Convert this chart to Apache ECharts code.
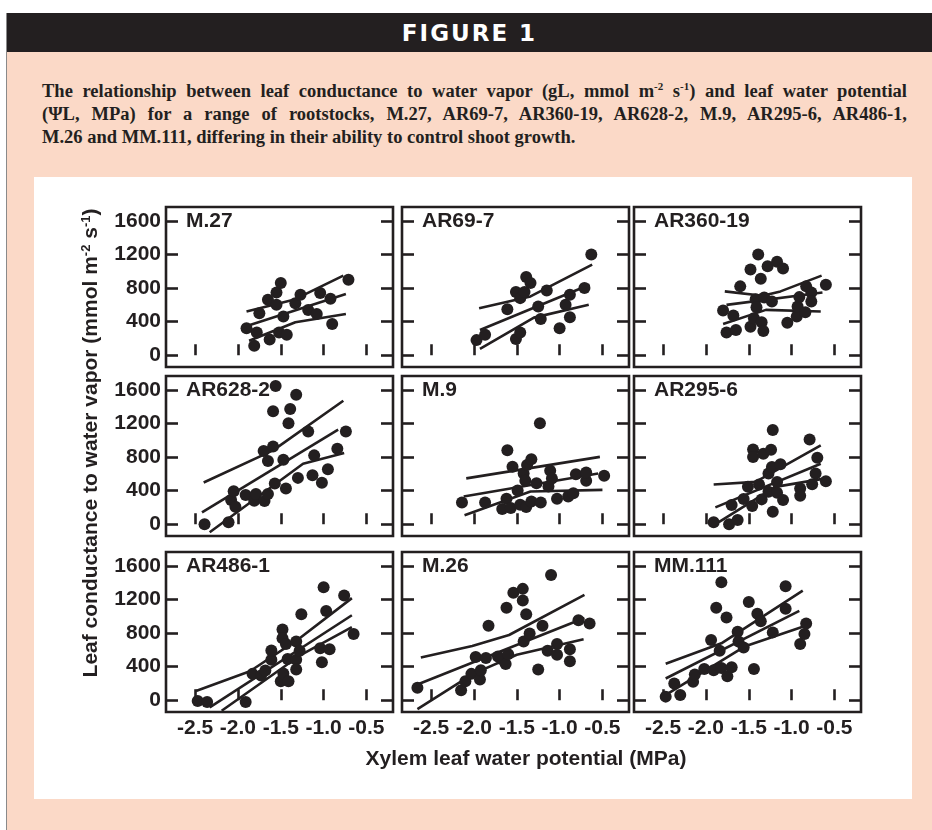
<!DOCTYPE html>
<html>
<head>
<meta charset="utf-8">
<script src="https://cdn.jsdelivr.net/npm/echarts@6/dist/echarts.min.js"></script>
<style>
html,body{margin:0;padding:0;background:#fff;width:932px;height:830px;overflow:hidden;}
#peach{position:absolute;left:6px;top:13px;width:926px;height:817px;background:#FBD9C7;border-left:1px solid #8a8a8a;}
#head{position:absolute;left:7px;top:13px;width:925px;height:39px;background:#231F20;color:#fff;text-align:center;font:bold 23px "DejaVu Sans",sans-serif;letter-spacing:2px;line-height:40px;}
#cap{position:absolute;left:42px;top:80px;width:865px;font:bold 18.5px "Liberation Serif",serif;line-height:23px;color:#231F20;}
#cap .j{text-align:justify;text-align-last:justify;white-space:nowrap;}
#cap sup{font-size:11px;vertical-align:7px;line-height:0;}
#white{position:absolute;left:34px;top:177px;width:878px;height:622px;background:#fff;}
#chart{position:absolute;left:0;top:0;width:932px;height:830px;}
</style>
</head>
<body>
<div id="peach"></div>
<div id="head">FIGURE 1</div>
<div id="cap">
<div class="j">The relationship between leaf conductance to water vapor (gL, mmol m<sup>-2</sup> s<sup>-1</sup>) and leaf water potential</div>
<div class="j">(ΨL, MPa) for a range of rootstocks, M.27, AR69-7, AR360-19, AR628-2, M.9, AR295-6, AR486-1,</div>
<div>M.26 and MM.111, differing in their ability to control shoot growth.</div>
</div>
<div id="white"></div>
<div id="chart"></div>
<script>
// ---------- data ----------
const panelNames = ['M.27','AR69-7','AR360-19','AR628-2','M.9','AR295-6','AR486-1','M.26','MM.111'];
const xTicks = [-2.5, -2.0, -1.5, -1.0, -0.5];
const yTicks = [0, 400, 800, 1200, 1600];
const xTitle = 'Xylem leaf water potential (MPa)';

const m27Points = [[-1.90,320],[-1.81,112],[-1.78,272],[-1.75,500],[-1.65,660],[-1.63,188],[-1.55,748],[-1.55,600],[-1.52,272],[-1.50,860],[-1.47,460],[-1.43,244],[-1.33,620],[-1.27,720],[-1.18,540],[-1.08,492],[-1.04,740],[-0.92,672],[-0.90,372],[-0.71,900]];
const m27Upper = [[-1.90,520],[-1.35,660],[-0.77,948]];
const m27Mid = [[-1.86,360],[-0.74,728]];
const m27Lower = [[-1.87,172],[-1.33,392],[-0.74,492]];

const ar697Points = [[-1.97,180],[-1.87,244],[-1.61,548],[-1.51,752],[-1.51,192],[-1.46,272],[-1.46,680],[-1.41,752],[-1.39,932],[-1.34,860],[-1.25,580],[-1.22,432],[-1.15,772],[-1.00,320],[-0.93,600],[-0.88,720],[-0.88,452],[-0.71,800],[-0.63,1200]];
const ar697Upper = [[-1.94,560],[-1.34,700],[-0.62,1080]];
const ar697Mid = [[-1.93,300],[-0.65,840]];
const ar697Lower = [[-1.93,76],[-1.30,448],[-0.66,600]];

const ar36019Points = [[-1.80,532],[-1.76,272],[-1.68,472],[-1.65,300],[-1.60,820],[-1.48,340],[-1.48,1020],[-1.44,440],[-1.42,668],[-1.41,572],[-1.39,1200],[-1.36,912],[-1.35,392],[-1.33,288],[-1.32,688],[-1.28,1060],[-1.23,640],[-1.17,1112],[-1.10,1032],[-1.05,388],[-0.94,460],[-0.93,580],[-0.91,692],[-0.84,512],[-0.83,820],[-0.77,748],[-0.77,640],[-0.60,840]];
const ar36019Upper = [[-1.78,760],[-1.34,708],[-1.13,760],[-0.65,948]];
const ar36019Mid = [[-1.76,600],[-0.64,748]];
const ar36019Lower = [[-1.80,372],[-1.30,540],[-0.66,520]];

const ar6282Points = [[-2.39,0],[-2.11,24],[-2.08,288],[-2.05,394],[-2.03,209],[-1.91,347],[-1.81,280],[-1.79,359],[-1.70,871],[-1.69,276],[-1.65,753],[-1.65,359],[-1.59,926],[-1.59,1344],[-1.57,485],[-1.56,1647],[-1.47,768],[-1.44,426],[-1.41,1202],[-1.39,1371],[-1.32,1541],[-1.30,552],[-1.18,1103],[-1.13,583],[-1.11,820],[-1.02,493],[-0.95,654],[-0.84,899],[-0.74,1103]];
const ar6282Upper = [[-2.40,497],[-1.59,879],[-0.77,1470]];
const ar6282Mid = [[-2.42,142],[-0.83,1127]];
const ar6282Lower = [[-2.33,-95],[-1.24,721],[-0.76,847]];

const m9Points = [[-2.14,259],[-1.87,259],[-1.67,181],[-1.62,303],[-1.61,881],[-1.57,193],[-1.55,684],[-1.49,401],[-1.46,232],[-1.42,605],[-1.40,519],[-1.39,204],[-1.38,704],[-1.33,774],[-1.33,271],[-1.27,487],[-1.23,1203],[-1.22,259],[-1.13,448],[-1.11,637],[-1.09,546],[-1.03,303],[-0.90,330],[-0.84,370],[-0.81,594],[-0.69,519],[-0.69,617],[-0.48,578]];
const m9Upper = [[-2.09,546],[-0.53,802]];
const m9Mid = [[-2.12,330],[-0.55,605]];
const m9Lower = [[-2.11,106],[-1.34,389],[-0.50,409]];

const ar2956Points = [[-1.91,24],[-1.73,0],[-1.70,229],[-1.63,51],[-1.56,300],[-1.51,445],[-1.46,217],[-1.45,891],[-1.45,800],[-1.38,473],[-1.35,296],[-1.33,839],[-1.27,603],[-1.27,386],[-1.24,887],[-1.23,682],[-1.22,1123],[-1.22,150],[-1.17,504],[-1.17,374],[-1.13,713],[-1.10,288],[-0.90,426],[-0.90,339],[-0.79,1009],[-0.76,477],[-0.72,603],[-0.70,792],[-0.60,512]];
const ar2956Upper = [[-1.91,473],[-1.42,504],[-0.66,938]];
const ar2956Mid = [[-1.89,201],[-0.66,721]];
const ar2956Lower = [[-1.85,24],[-1.19,445],[-0.57,552]];

const ar4861Points = [[-2.47,-8],[-2.36,-20],[-1.91,-20],[-1.83,314],[-1.73,294],[-1.68,353],[-1.61,482],[-1.61,592],[-1.50,227],[-1.48,843],[-1.48,737],[-1.47,318],[-1.44,671],[-1.41,227],[-1.42,490],[-1.32,698],[-1.32,482],[-1.32,365],[-1.28,588],[-1.26,1024],[-1.04,620],[-1.02,451],[-1.00,1345],[-0.97,1063],[-0.93,608],[-0.76,1247],[-0.65,788]];
const ar4861Upper = [[-2.49,110],[-1.86,345],[-1.28,737],[-0.67,1216]];
const ar4861Mid = [[-2.33,-86],[-0.67,1012]];
const ar4861Lower = [[-2.19,-125],[-1.28,530],[-0.67,870]];

const m26Points = [[-2.66,149],[-2.15,118],[-2.10,227],[-2.03,314],[-1.98,514],[-1.93,247],[-1.92,357],[-1.86,502],[-1.83,886],[-1.72,522],[-1.68,490],[-1.63,431],[-1.62,1102],[-1.60,549],[-1.54,1279],[-1.43,1326],[-1.43,1188],[-1.42,698],[-1.39,1024],[-1.35,796],[-1.25,365],[-1.20,886],[-1.14,588],[-1.10,1490],[-1.03,671],[-1.03,541],[-0.88,608],[-0.88,463],[-0.78,953],[-0.65,914]];
const m26Upper = [[-2.62,510],[-2.02,647],[-1.59,777],[-0.71,1255]];
const m26Mid = [[-2.66,188],[-0.71,980]];
const m26Lower = [[-2.66,-106],[-2.01,314],[-1.50,541],[-0.72,726]];

const mm111Points = [[-2.47,43],[-2.37,200],[-2.30,63],[-2.15,220],[-2.13,306],[-2.02,373],[-1.94,718],[-1.91,357],[-1.88,1102],[-1.84,588],[-1.82,1404],[-1.82,384],[-1.76,984],[-1.75,286],[-1.70,392],[-1.63,816],[-1.62,698],[-1.56,627],[-1.50,1169],[-1.44,373],[-1.40,1031],[-1.36,941],[-1.22,808],[-1.07,1357],[-1.07,1090],[-0.90,671],[-0.85,788],[-0.83,914]];
const mm111Upper = [[-2.47,435],[-1.82,678],[-0.87,1306]];
const mm111Mid = [[-2.47,259],[-0.91,1063]];
const mm111Lower = [[-2.44,82],[-1.55,639],[-0.87,875]];

const panelPoints = [m27Points, ar697Points, ar36019Points, ar6282Points, m9Points, ar2956Points, ar4861Points, m26Points, mm111Points];
const panelUpper = [m27Upper, ar697Upper, ar36019Upper, ar6282Upper, m9Upper, ar2956Upper, ar4861Upper, m26Upper, mm111Upper];
const panelMid = [m27Mid, ar697Mid, ar36019Mid, ar6282Mid, m9Mid, ar2956Mid, ar4861Mid, m26Mid, mm111Mid];
const panelLower = [m27Lower, ar697Lower, ar36019Lower, ar6282Lower, m9Lower, ar2956Lower, ar4861Lower, m26Lower, mm111Lower];

// ---------- layout ----------
const INK = '#231F20';
const colLeft = [166, 402, 634];
const rowTop = [207, 376, 552];
const PW = 227, PH = 160;
const XMIN = -2.84, XMAX = -0.19, YMIN = -140, YMAX = 1765;
const labelFont = 'Liberation Sans, Arial, sans-serif';
const FS = 21;

const grids = [], xAxes = [], yAxes = [], series = [], graphics = [];
panelNames.forEach((name, i) => {
  const r = Math.floor(i / 3), c = i % 3;
  grids.push({left: colLeft[c], top: rowTop[r], width: PW, height: PH, show: true,
    backgroundColor: '#fff', borderColor: INK, borderWidth: 2.6});
  xAxes.push({gridIndex: i, type: 'value', min: XMIN, max: XMAX, position: 'bottom',
    axisLine: {show: false}, splitLine: {show: false},
    axisTick: {show: true, inside: true, length: 11, customValues: xTicks, lineStyle: {color: INK, width: 2.6}},
    axisLabel: {show: r === 2, customValues: xTicks, formatter: v => v.toFixed(1), margin: 6,
      fontSize: FS, fontWeight: 'bold', fontFamily: labelFont, color: INK}});
  const yBase = {gridIndex: i, type: 'value', min: YMIN, max: YMAX,
    axisLine: {show: false}, splitLine: {show: false},
    axisTick: {show: true, inside: true, length: 12, customValues: yTicks, lineStyle: {color: INK, width: 2.6}}};
  yAxes.push(Object.assign({}, yBase, {position: 'left',
    axisLabel: {show: c === 0, customValues: yTicks, formatter: v => String(v), margin: 5,
      fontSize: FS, fontWeight: 'bold', fontFamily: labelFont, color: INK}}));
  yAxes.push(Object.assign({}, yBase, {position: 'right', axisLabel: {show: false}}));
  series.push({type: 'scatter', xAxisIndex: i, yAxisIndex: 2 * i, data: panelPoints[i],
    symbol: 'circle', symbolSize: 12, itemStyle: {color: INK, opacity: 1}, z: 3});
  [panelUpper[i], panelMid[i], panelLower[i]].forEach(d => {
    series.push({type: 'line', xAxisIndex: i, yAxisIndex: 2 * i, data: d, showSymbol: false,
      symbol: 'none', lineStyle: {color: INK, width: 2.6}, z: 2});
  });
  graphics.push({type: 'text', x: colLeft[c] + 20, y: rowTop[r] + 14, z: 10,
    style: {text: name, fill: INK, fontSize: FS, fontWeight: 'bold', fontFamily: labelFont, verticalAlign: 'middle', align: 'left'}});
});

graphics.push({type: 'text', x: 91, y: 443, rotation: Math.PI / 2, z: 10,
  style: {text: '{n|Leaf conductance to water vapor (mmol m}{s|-2}{n| s}{s|-1}{n|)}',
    align: 'center', verticalAlign: 'middle', fill: INK,
    rich: {
      n: {fontSize: 21, fontWeight: 'bold', fontFamily: labelFont, color: INK, lineHeight: 23},
      s: {fontSize: 13, fontWeight: 'bold', fontFamily: labelFont, color: INK, verticalAlign: 'top', lineHeight: 13}
    }}});
graphics.push({type: 'text', x: 526, y: 759, z: 10,
  style: {text: xTitle, fill: INK, fontSize: 21, fontWeight: 'bold', fontFamily: labelFont, align: 'center', verticalAlign: 'middle'}});

const chart = echarts.init(document.getElementById('chart'), null, {renderer: 'canvas'});
chart.setOption({
  animation: false,
  backgroundColor: 'transparent',
  grid: grids, xAxis: xAxes, yAxis: yAxes, series: series, graphic: graphics
});
</script>
</body>
</html>
